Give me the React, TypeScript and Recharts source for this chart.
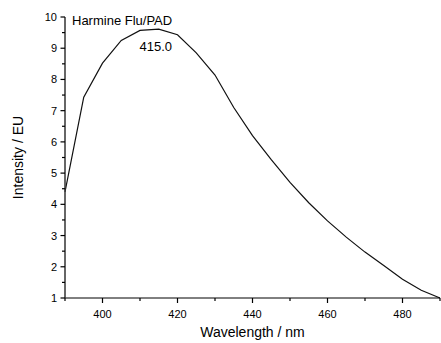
import { LineChart, Line, XAxis, YAxis, ReferenceDot } from "recharts";

const wavelengths = [390, 395, 400, 405, 410, 415, 420, 425, 430, 435, 440, 445, 450, 455, 460, 465, 470, 475, 480, 485, 490];
const intensities = [4.4, 7.43, 8.52, 9.25, 9.57, 9.61, 9.43, 8.85, 8.14, 7.1, 6.2, 5.43, 4.7, 4.05, 3.47, 2.95, 2.47, 2.04, 1.6, 1.25, 1.0];

// every 10 nm gets a tick, every 20 nm a label
const xTicks = [390, 400, 410, 420, 430, 440, 450, 460, 470, 480, 490];
// every 0.5 gets a tick, whole numbers get a label
const yTicks = [1, 1.5, 2, 2.5, 3, 3.5, 4, 4.5, 5, 5.5, 6, 6.5, 7, 7.5, 8, 8.5, 9, 9.5, 10];

const title = "Harmine Flu/PAD";
const peakLabel = "415.0";
const peakX = 415;

const data = wavelengths.map((w, i) => ({ w, v: intensities[i] }));

const FONT = "'Liberation Sans', Arial, sans-serif";
const TICK_SIZE = 6;

function XTick({ x, y, payload }: any) {
  const v = payload.value as number;
  const major = v % 20 === 0;
  const ay = Number(y) - TICK_SIZE;
  return (
    <g>
      <line x1={x} x2={x} y1={ay} y2={ay + (major ? 5 : 3)} stroke="#000" strokeWidth={1.2} />
      {major && (
        <text x={x} y={ay + 19.5} textAnchor="middle" fontSize={11} fontFamily={FONT} fill="#000">
          {v}
        </text>
      )}
    </g>
  );
}

function YTick({ x, y, payload }: any) {
  const v = payload.value as number;
  const major = Number.isInteger(v);
  const ax = Number(x) + TICK_SIZE;
  return (
    <g>
      <line x1={ax - (major ? 4.5 : 3)} x2={ax} y1={y} y2={y} stroke="#000" strokeWidth={1.2} />
      {major && (
        <text x={ax - 8} y={Number(y) + 4} textAnchor="end" fontSize={11} fontFamily={FONT} fill="#000">
          {v}
        </text>
      )}
    </g>
  );
}

export default function App() {
  const peak = data.find((d) => d.w === peakX)!;
  return (
    <div style={{ position: "absolute", left: 0, top: 0, background: "#fff" }}>
      <LineChart width={441} height={343} data={data} margin={{ top: 17, right: 1, left: 0, bottom: 0 }}>
        <XAxis
          dataKey="w"
          type="number"
          domain={[390, 490]}
          ticks={xTicks}
          interval={0}
          tickSize={TICK_SIZE}
          tickMargin={0}
          tickLine={false}
          tick={<XTick />}
          height={45}
          axisLine={{ stroke: "#000", strokeWidth: 1 }}
          label={{
            content: ({ viewBox }: any) => (
              <text
                x={viewBox.x + viewBox.width / 2}
                y={337}
                textAnchor="middle"
                fontSize={14}
                fontFamily={FONT}
                fill="#000"
              >
                Wavelength / nm
              </text>
            ),
          }}
        />
        <YAxis
          type="number"
          domain={[1, 10]}
          ticks={yTicks}
          interval={0}
          tickSize={TICK_SIZE}
          tickMargin={0}
          tickLine={false}
          tick={<YTick />}
          width={65}
          axisLine={{ stroke: "#333", strokeWidth: 1.5 }}
          label={{
            content: ({ viewBox }: any) => {
              const cy = viewBox.y + viewBox.height / 2;
              return (
                <text
                  x={23}
                  y={cy}
                  transform={`rotate(-90, 23, ${cy})`}
                  textAnchor="middle"
                  fontSize={14}
                  fontFamily={FONT}
                  fill="#000"
                >
                  Intensity / EU
                </text>
              );
            },
          }}
        />
        <Line
          type="linear"
          dataKey="v"
          stroke="#111"
          strokeWidth={1.2}
          dot={false}
          isAnimationActive={false}
        />
        <ReferenceDot
          x={peak.w}
          y={peak.v}
          r={0}
          stroke="none"
          fill="none"
          label={{
            content: ({ viewBox }: any) => (
              <text
                x={viewBox.x + viewBox.width / 2 - 3}
                y={viewBox.y + viewBox.height / 2 + 22}
                textAnchor="middle"
                fontSize={13}
                fontFamily={FONT}
                fill="#000"
              >
                {peakLabel}
              </text>
            ),
          }}
        />
        <ReferenceDot
          x={390}
          y={10}
          r={0}
          stroke="none"
          fill="none"
          label={{
            content: ({ viewBox }: any) => (
              <text
                x={viewBox.x + viewBox.width / 2 + 7}
                y={viewBox.y + viewBox.height / 2 + 8}
                textAnchor="start"
                fontSize={13}
                fontFamily={FONT}
                fill="#000"
              >
                {title}
              </text>
            ),
          }}
        />
      </LineChart>
    </div>
  );
}
